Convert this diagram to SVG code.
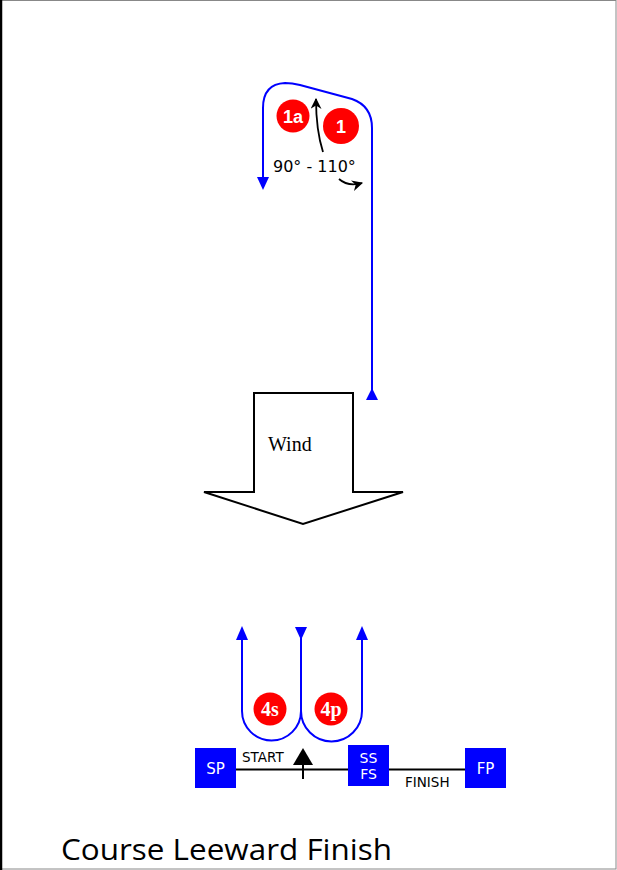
<svg xmlns="http://www.w3.org/2000/svg" width="617" height="870" viewBox="0 0 617 870">
<style>
.course{fill:none;stroke:#0000ff;stroke-width:2}
.mark{fill:#ff0000}
.marktxt{fill:#fff;font-family:"Liberation Sans",Arial,sans-serif;font-weight:bold;font-size:18px;text-anchor:middle}
.marktxt2{fill:#fff;font-family:"Liberation Serif","Times New Roman",serif;font-weight:bold;font-size:20px;text-anchor:middle}
.box{fill:#0000ff}
.boxtxt{fill:#fff;font-family:"DejaVu Sans",sans-serif;font-size:15px;text-anchor:middle}
.boxtxt2{fill:#fff;font-family:"DejaVu Sans",sans-serif;font-size:14px;text-anchor:middle}
.lbl{fill:#000;font-family:"DejaVu Sans",sans-serif;font-size:13.5px}
.blk{fill:none;stroke:#000;stroke-width:1.8}
</style>
<defs>
<marker id="bh" viewBox="0 0 10 10" refX="9" refY="5" markerWidth="11" markerHeight="11" markerUnits="userSpaceOnUse" orient="auto"><path d="M0,0 L10,5 L0,10 L3,5 Z" fill="#000"/></marker>
</defs>
<rect x="0" y="0" width="617" height="870" fill="#fff"/>
<rect x="0.5" y="0.5" width="615.5" height="868.5" fill="none" stroke="#888" stroke-width="1"/>
<line x1="1" y1="0" x2="1" y2="870" stroke="#000" stroke-width="2.5"/>

<g id="connectors">
<path class="course" d="M372,392 L372,128 Q372,106 352,99 L300,85 Q292,83 285,83 Q263,84 263,108 L263,180"/>
<polygon points="263,190 257,177 269,177" fill="#0000ff"/>
<polygon points="372,388 366,400 378,400" fill="#0000ff"/>
<path class="course" d="M242,636 L242,711 A29.5,29.5 0 0 0 301,711 L301,636 M301,711 A30.5,30.5 0 0 0 362,711 L362,636"/>
<polygon points="242,626 236,640 248,640" fill="#0000ff"/>
<polygon points="301,640 295,627 307,627" fill="#0000ff"/>
<polygon points="362,626 356,640 368,640" fill="#0000ff"/>
<path class="blk" d="M323,152 Q316,130 316,99" marker-end="url(#bh)"/>
<path class="blk" d="M339,179 Q348,187 362,183" marker-end="url(#bh)"/>
<line x1="236" y1="769.5" x2="466" y2="769.5" stroke="#000" stroke-width="2"/>
<line x1="303" y1="762" x2="303" y2="779" stroke="#000" stroke-width="2"/>
<polygon points="303,748 293,765 313,765" fill="#000"/>
</g>

<g id="wind">
<polygon points="254,393 353,393 353,492 403,492 303,524 204,492 254,492" fill="#fff" stroke="#000" stroke-width="2"/>
<text x="268" y="451" font-family="Liberation Serif,'Times New Roman',serif" font-size="20">Wind</text>
</g>

<g id="mark-1a"><circle class="mark" cx="293" cy="116" r="16.5"/><text class="marktxt" x="293" y="122.5">1a</text></g>
<g id="mark-1"><circle class="mark" cx="341" cy="126" r="18"/><text class="marktxt" x="341" y="132.5">1</text></g>
<text x="273" y="172" font-family="DejaVu Sans,sans-serif" font-size="16" fill="#000">90° - 110°</text>

<g id="mark-4s"><circle class="mark" cx="270" cy="709" r="16.5"/><text class="marktxt2" x="270" y="716">4s</text></g>
<g id="mark-4p"><circle class="mark" cx="331" cy="709" r="16.5"/><text class="marktxt2" x="331" y="716">4p</text></g>

<g id="sp"><rect class="box" x="195" y="748" width="41" height="40"/><text class="boxtxt" x="215.5" y="774">SP</text></g>
<g id="ssfs"><rect class="box" x="348" y="745" width="41" height="41"/><text class="boxtxt2" x="368.5" y="763">SS</text><text class="boxtxt2" x="368.5" y="779">FS</text></g>
<g id="fp"><rect class="box" x="465" y="748" width="41" height="40"/><text class="boxtxt" x="485.5" y="774">FP</text></g>
<text class="lbl" x="242" y="762">START</text>
<text class="lbl" x="405" y="787" font-size="14">FINISH</text>

<text x="61" y="860" font-family="Open Sans,sans-serif" font-size="30" textLength="331" lengthAdjust="spacingAndGlyphs" fill="#000">Course Leeward Finish</text>
</svg>
